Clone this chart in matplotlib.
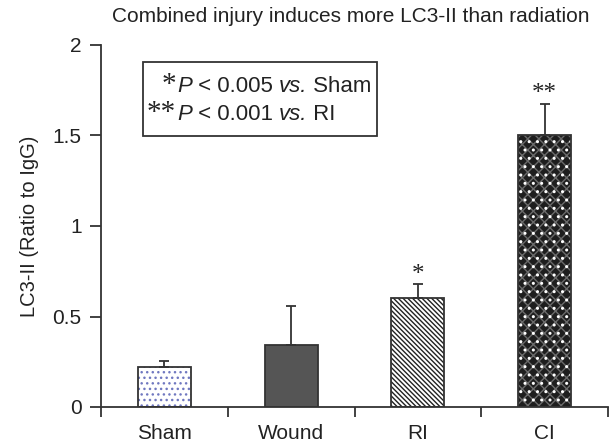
import matplotlib
matplotlib.use("Agg")
import matplotlib.pyplot as plt
from matplotlib.patches import Rectangle
import numpy as np

categories = ["Sham", "Wound", "RI", "CI"]
values = [0.22, 0.34, 0.60, 1.50]
errors = [0.032, 0.22, 0.077, 0.176]
sig_marks = ["", "", "*", "**"]
yticks = [0, 0.5, 1, 1.5, 2]
ytick_labels = ["0", "0.5", "1", "1.5", "2"]
title = "Combined injury induces more LC3-II than radiation"
ylabel = "LC3-II (Ratio to IgG)"
legend_rows = [("*", "0.005", "Sham"), ("**", "0.001", "RI")]

plt.rcParams['font.family'] = ['Liberation Sans', 'DejaVu Sans']
plt.rcParams['hatch.linewidth'] = 1.0

fig = plt.figure(figsize=(6.14, 4.45), dpi=100)
ax = fig.add_axes([101/614, 1-407/445, (608-101)/614, (407-45)/445])

x = np.arange(len(categories))
w = 0.42
axc = '#333333'
tc = '#222222'

# Sham: dotted
ax.bar(x[0], values[0], w, color='white', edgecolor='#7078c0', hatch='...', linewidth=0)
# Wound: solid dark grey
ax.bar(x[1], values[1], w, color='#555555', edgecolor='none', linewidth=0)
# RI: diagonal lines
ax.bar(x[2], values[2], w, color='white', edgecolor='#222222', hatch='\\' * 7, linewidth=0)
# CI: dark crosshatch with white dots
ax.bar(x[3], values[3], w, color='#1e1e1e', edgecolor='#6a6a6a', hatch='xxx', linewidth=0)
ax.bar(x[3], values[3], w, color='none', edgecolor='white', hatch='..', linewidth=0)
# outlines
ax.bar(x, values, w, color='none', edgecolor=axc, linewidth=1.3)

ax.errorbar(x, values, yerr=[np.zeros(len(errors)), errors], fmt='none',
            ecolor=axc, elinewidth=1.3, capsize=3.6, capthick=1.3)

for xi, v, e, s in zip(x, values, errors, sig_marks):
    if s:
        ax.text(xi, v + e - 0.01, s, ha='center', va='bottom', fontsize=18,
                family='Liberation Serif', color=tc)

ax.set_xlim(-0.5, 3.5)
ax.set_ylim(0, 2)
ax.set_yticks(yticks)
ax.set_yticklabels(ytick_labels)
ax.set_xticks(x)
ax.set_xticklabels(categories)
ax.set_xticks(np.arange(-0.5, 3.6, 1), minor=True)
ax.tick_params(axis='x', which='major', length=0, labelsize=15, pad=12, colors=tc)
ax.tick_params(axis='x', which='minor', length=7, width=1.3, color=axc, direction='out')
ax.tick_params(axis='y', length=8, width=1.3, color=axc, labelsize=15, pad=6, labelcolor=tc)
for sp in ['top', 'right']:
    ax.spines[sp].set_visible(False)
for sp in ['left', 'bottom']:
    ax.spines[sp].set_color(axc)
    ax.spines[sp].set_linewidth(1.3)

ax.set_ylabel(ylabel, fontsize=14.5, color=tc, labelpad=10)
fig.text(351/614, 1-16/445, title, ha='center', va='center', fontsize=15, color=tc)

# legend box
box = Rectangle((143/614, 1-136/445), (377-143)/614, (136-62)/445, transform=fig.transFigure,
                facecolor='white', edgecolor=axc, linewidth=1.3)
fig.add_artist(box)
px = 177/614
fs = 16
for ypix, (stars, pval, ref) in zip([86, 114], legend_rows):
    yy = 1 - ypix/445
    fig.text(px - 0.002, yy + 0.002, stars, ha='right', va='center', fontsize=21,
             family='Liberation Serif', color=tc)
    t = fig.text(px, yy, "P", ha='left', va='center', fontsize=fs, style='italic', color=tc)
    fig.canvas.draw()
    bb = t.get_window_extent()
    t2 = fig.text(bb.x1/614, yy, " < " + pval + " ", ha='left', va='center', fontsize=fs, color=tc)
    fig.canvas.draw()
    bb = t2.get_window_extent()
    t3 = fig.text(bb.x1/614, yy, "vs.", ha='left', va='center', fontsize=fs, style='italic', color=tc)
    fig.canvas.draw()
    bb = t3.get_window_extent()
    fig.text(bb.x1/614, yy, " " + ref, ha='left', va='center', fontsize=fs, color=tc)

fig.savefig("out.png", dpi=100)
